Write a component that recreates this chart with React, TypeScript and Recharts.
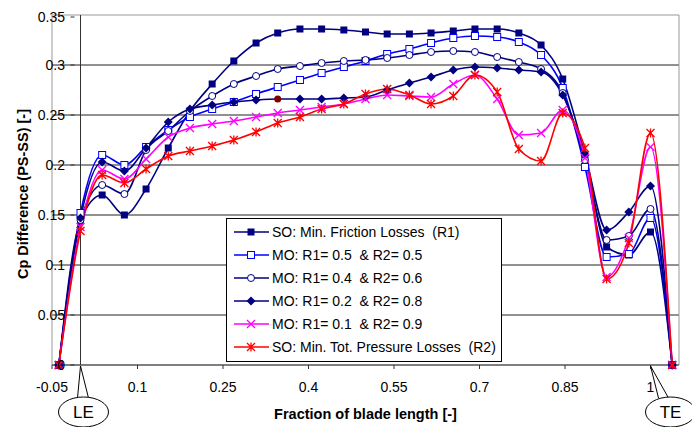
import { CartesianGrid, Label, Line, LineChart, ReferenceArea, ReferenceDot, ReferenceLine, XAxis, YAxis } from 'recharts';

const xs = [-0.038, 0, 0.038, 0.077, 0.115, 0.154, 0.192, 0.231, 0.269, 0.308, 0.346, 0.385, 0.423, 0.462, 0.5, 0.538, 0.577, 0.615, 0.654, 0.692, 0.731, 0.769, 0.808, 0.846, 0.885, 0.923, 0.962, 1, 1.038];

const soFriction = [0, 0.145, 0.17, 0.15, 0.176, 0.217, 0.254, 0.281, 0.304, 0.322, 0.332, 0.336, 0.336, 0.335, 0.333, 0.331, 0.331, 0.332, 0.334, 0.336, 0.336, 0.332, 0.32, 0.286, 0.21, 0.118, 0.11, 0.133, 0];
const mo55 = [0, 0.152, 0.21, 0.2, 0.218, 0.235, 0.248, 0.256, 0.263, 0.271, 0.278, 0.285, 0.292, 0.298, 0.304, 0.311, 0.316, 0.322, 0.327, 0.329, 0.328, 0.323, 0.31, 0.277, 0.198, 0.108, 0.111, 0.147, 0];
const mo46 = [0, 0.145, 0.18, 0.171, 0.215, 0.234, 0.254, 0.269, 0.281, 0.289, 0.296, 0.299, 0.302, 0.304, 0.305, 0.307, 0.31, 0.313, 0.314, 0.313, 0.308, 0.303, 0.296, 0.272, 0.205, 0.125, 0.129, 0.156, 0];
const mo28 = [0, 0.147, 0.203, 0.194, 0.217, 0.243, 0.256, 0.26, 0.263, 0.265, 0.266, 0.266, 0.266, 0.267, 0.268, 0.275, 0.282, 0.288, 0.295, 0.298, 0.297, 0.295, 0.293, 0.27, 0.21, 0.135, 0.153, 0.179, 0];
const mo19 = [0, 0.138, 0.195, 0.186, 0.206, 0.228, 0.237, 0.241, 0.244, 0.248, 0.252, 0.255, 0.258, 0.261, 0.266, 0.27, 0.269, 0.268, 0.281, 0.29, 0.266, 0.23, 0.232, 0.255, 0.207, 0.088, 0.127, 0.218, 0];
const soPressure = [0, 0.134, 0.19, 0.182, 0.196, 0.209, 0.214, 0.219, 0.225, 0.233, 0.242, 0.248, 0.256, 0.261, 0.271, 0.276, 0.27, 0.261, 0.269, 0.29, 0.273, 0.216, 0.204, 0.252, 0.217, 0.086, 0.122, 0.232, 0];

const xTicks = [-0.05, 0.1, 0.25, 0.4, 0.55, 0.7, 0.85, 1];
const yTicks = [0, 0.05, 0.1, 0.15, 0.2, 0.25, 0.3, 0.35];
const yTickLabels = ['0', '0.05', '0.1', '0.15', '0.2', '0.25', '0.3', '0.35'];
const gridValues = [0.05, 0.1, 0.15, 0.2, 0.25, 0.3];

const data = xs.map((x, i) => ({
  x,
  s1: soFriction[i],
  s2: mo55[i],
  s3: mo46[i],
  s4: mo28[i],
  s5: mo19[i],
  s6: soPressure[i],
}));

const NAVY = '#000080';
const BLUE = '#0000ff';
const MAGENTA = '#ff00ff';
const RED = '#ff0000';
const FONT = '"Liberation Sans", Arial, sans-serif';

type M = { cx?: number; cy?: number };

const FilledSquare = ({ cx = 0, cy = 0 }: M) => <rect x={cx - 3.5} y={cy - 3.5} width={7} height={7} fill={NAVY} />;
const OpenSquare = ({ cx = 0, cy = 0 }: M) => <rect x={cx - 3.5} y={cy - 3.5} width={7} height={7} fill="#fff" stroke={BLUE} strokeWidth={1} />;
const OpenCircle = ({ cx = 0, cy = 0 }: M) => <circle cx={cx} cy={cy} r={3.5} fill="#fff" stroke={NAVY} strokeWidth={1} />;
const Diamond = ({ cx = 0, cy = 0 }: M) => <path d={`M${cx},${cy - 4.5}L${cx + 4.5},${cy}L${cx},${cy + 4.5}L${cx - 4.5},${cy}Z`} fill={NAVY} />;
const Cross = ({ cx = 0, cy = 0 }: M) => (
  <path d={`M${cx - 4},${cy - 4}L${cx + 4},${cy + 4}M${cx - 4},${cy + 4}L${cx + 4},${cy - 4}`} stroke={MAGENTA} strokeWidth={1.3} />
);
const Asterisk = ({ cx = 0, cy = 0 }: M) => (
  <path
    d={`M${cx - 4},${cy - 4}L${cx + 4},${cy + 4}M${cx - 4},${cy + 4}L${cx + 4},${cy - 4}M${cx},${cy - 4.5}L${cx},${cy + 4.5}`}
    stroke={RED}
    strokeWidth={1.3}
  />
);

const series = [
  { key: 's1', name: 'SO: Min. Friction Losses  (R1)', color: NAVY, Marker: FilledSquare },
  { key: 's2', name: 'MO: R1= 0.5  & R2= 0.5', color: BLUE, Marker: OpenSquare },
  { key: 's3', name: 'MO: R1= 0.4  & R2= 0.6', color: NAVY, Marker: OpenCircle },
  { key: 's4', name: 'MO: R1= 0.2  & R2= 0.8', color: NAVY, Marker: Diamond },
  { key: 's5', name: 'MO: R1= 0.1  & R2= 0.9', color: MAGENTA, Marker: Cross },
  { key: 's6', name: 'SO: Min. Tot. Pressure Losses  (R2)', color: RED, Marker: Asterisk },
];

// labels sit right next to the y axis drawn at x = 0, with small ticks pointing left
const YTick = (props: any) => (
  <g>
    <line x1={props.x + 26.5} x2={props.x + 30.5} y1={props.y} y2={props.y} stroke="#333" />
    <text x={props.x + 21} y={props.y} dy={5} textAnchor="end" fontSize={14} fill="#000" fontFamily={FONT}>
      {yTickLabels[yTicks.indexOf(props.payload.value)]}
    </text>
  </g>
);

const Callout = (label: string, tailA: number, tailB: number, dx: number) => (props: any) => {
  const { cx, cy } = props;
  return (
    <g>
      <path d={`M${cx + tailA},${cy + 33}L${cx},${cy + 1}L${cx + tailB},${cy + 33}`} fill="none" stroke="#000" strokeWidth={1} />
      <ellipse cx={cx + dx} cy={cy + 47} rx={25} ry={15} fill="#fff" stroke="#000" strokeWidth={1} />
      <text x={cx + dx} y={cy + 53} textAnchor="middle" fontSize={17} fontFamily={FONT} fill="#000">
        {label}
      </text>
    </g>
  );
};

export default function App() {
  return (
    <div style={{ position: 'relative', width: 692, height: 419, fontFamily: FONT }}>
      <LineChart width={692} height={419} data={data} margin={{ top: 7, right: 21, left: 0, bottom: 0 }}>
        <CartesianGrid horizontal vertical={false} horizontalValues={gridValues} stroke="#222" strokeWidth={1} />
        <ReferenceArea x1={-0.05} x2={1.05} y1={0} y2={0.35} fill="none" fillOpacity={0} stroke="#999" strokeWidth={1} />
        <ReferenceLine x={0} stroke="#333" strokeWidth={1} />
        <XAxis
          type="number"
          dataKey="x"
          domain={[-0.05, 1.05]}
          ticks={xTicks}
          allowDataOverflow
          height={62}
          axisLine={{ stroke: '#333' }}
          tickLine={{ stroke: '#333' }}
          tickSize={4}
          tickMargin={13}
          tick={{ fontSize: 14, fill: '#000', fontFamily: FONT }}
        >
          <Label value="Fraction of blade length [-]" position="insideBottom" offset={8} fontSize={14.5} fontWeight="bold" fill="#000" fontFamily={FONT} />
        </XAxis>
        <YAxis
          type="number"
          domain={[0, 0.35]}
          ticks={yTicks}
          width={44}
          axisLine={false}
          tickLine={false}
          tick={<YTick />}
          label={{
            content: () => (
              <text transform="translate(20,186) rotate(-90)" textAnchor="middle" fontSize={14.5} fontWeight="bold" fill="#000" fontFamily={FONT}>
                Cp Difference (PS-SS) [-]
              </text>
            ),
          }}
        />
        {series.map(({ key, color, Marker }) => (
          <Line
            key={key}
            dataKey={key}
            type="monotone"
            stroke={color}
            strokeWidth={1.6}
            isAnimationActive={false}
            dot={(p: any) =>
              key === 's4' && p.index === 10 ? (
                <circle key={p.index} cx={p.cx} cy={p.cy} r={3.5} fill="#800000" />
              ) : (
                <Marker key={p.index} cx={p.cx} cy={p.cy} />
              )
            }
            activeDot={false}
          />
        ))}
        <ReferenceDot x={0} y={0} ifOverflow="visible" shape={Callout('LE', -3, 8, 3)} />
        <ReferenceDot x={1} y={0} ifOverflow="visible" shape={Callout('TE', 8, 18, 20)} />
      </LineChart>
      <div
        style={{
          position: 'absolute',
          left: 218,
          top: 210,
          width: 274,
          height: 141,
          background: '#fff',
          border: '1px solid #000',
          paddingTop: 1,
        }}
      >
        {series.map(({ key, name, color, Marker }) => (
          <div key={key} style={{ display: 'flex', alignItems: 'center', height: 23 }}>
            <svg width={42} height={12} style={{ marginLeft: 6 }}>
              <line x1={1} y1={6} x2={36} y2={6} stroke={color} strokeWidth={1.5} />
              <Marker cx={18} cy={6} />
            </svg>
            <span style={{ fontSize: 14, whiteSpace: 'pre', color: '#000', marginLeft: -3 }}>{name}</span>
          </div>
        ))}
      </div>
    </div>
  );
}
